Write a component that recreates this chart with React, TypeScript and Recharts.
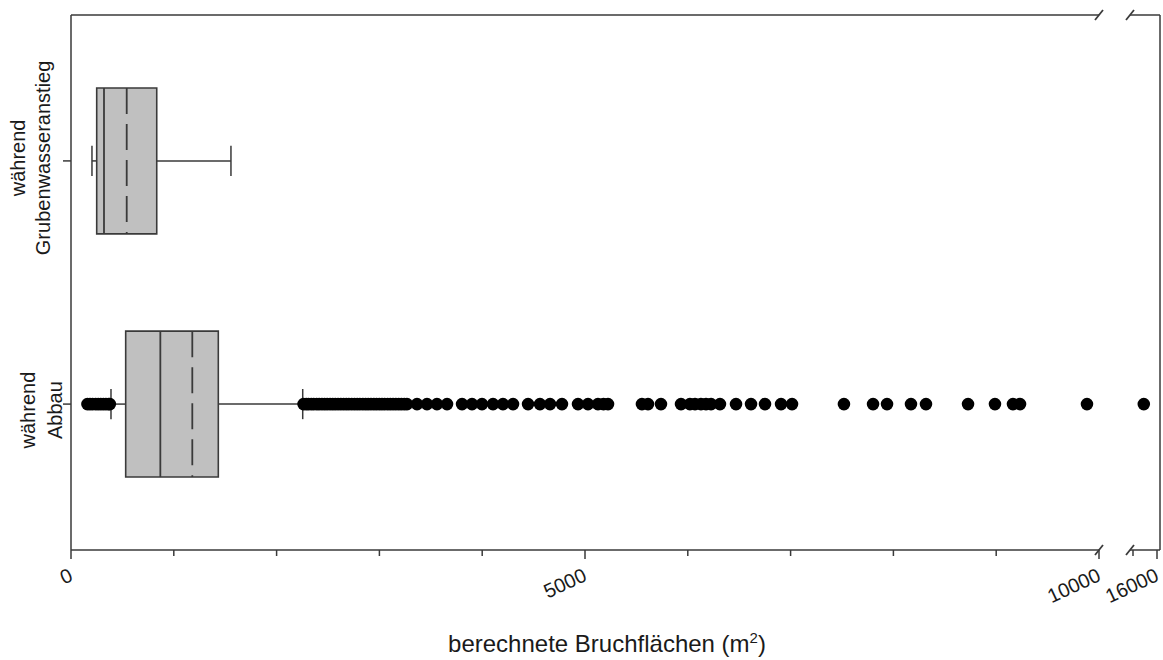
import React from 'react'
import { ScatterChart, Scatter, XAxis, YAxis, ReferenceArea, ReferenceLine } from 'recharts'

// categories on the value axis: 1 = Abbau, 2 = Grubenwasseranstieg
const CATEGORY_POS = [1, 2]
const CATEGORY_LINES = [
  ['während', 'Abbau'],
  ['während', 'Grubenwasseranstieg'],
]

// box statistics per category (m²)
const WHISKER_LOW = [389, 204]
const Q1 = [532, 250]
const MEDIAN = [869, 321]
const MEAN = [1180, 542]
const Q3 = [1433, 834]
const WHISKER_HIGH = [2254, 1556]

// outliers of "während Abbau"
const ABBAU_OUTLIERS = [
  160, 185, 210, 240, 265, 290, 315, 340, 365, 378,
  2262, 2288, 2310, 2337, 2361, 2390, 2414, 2441, 2467, 2492, 2520, 2546, 2571, 2598,
  2625, 2652, 2678, 2703, 2731, 2758, 2784, 2810, 2839, 2866, 2891, 2918, 2946, 2972,
  2999, 3025, 3051, 3080, 3106, 3133, 3160, 3188, 3214, 3242,
  3268, 3366, 3463, 3560, 3658, 3804, 3901, 3998, 4105, 4202, 4300, 4446, 4562, 4660,
  4776, 4932, 5029, 5126, 5180, 5224, 5554, 5613, 5739, 5934, 6021, 6070, 6128, 6177,
  6226, 6313, 6469, 6615, 6751, 6907, 7014, 7519, 7802, 7938, 8171, 8317, 8726, 8988,
  9163, 9232, 9883, 15450,
]

// broken x axis: two segments
const LEFT_DOMAIN = [0, 10000]
const RIGHT_DOMAIN = [14875, 16125]
const LEFT_TICKS = [0, 1000, 2000, 3000, 4000, 5000, 6000, 7000, 8000, 9000, 10000]
const RIGHT_TICKS = [15000, 16000]
const LABELED_TICKS = [0, 5000, 10000, 16000]
const Y_DOMAIN = [0.4, 2.6]

const FONT = '"Liberation Sans", Arial, sans-serif'
const LINE = '#3a3a3a'
const BOX_HALF = 0.3
const CAP_HALF = 0.062

// x position of each label line, and vertical nudge, per category
const LABEL_X = [[28, 55], [18, 43]]
const LABEL_DY = [6, -3]

const XTick = ({ x, y, payload }: any) => {
  const major = LABELED_TICKS.includes(payload.value)
  const px = x + 3
  const py = y + 30
  return (
    <g>
      <line x1={x} y1={y} x2={x} y2={y + (major ? 9 : 6)} stroke={LINE} strokeWidth={1.5} />
      {major && (
        <text
          x={px}
          y={py}
          textAnchor="end"
          transform={`rotate(-25 ${px} ${py})`}
          fontSize={20}
          fontFamily={FONT}
          fill="#1a1a1a"
        >
          {payload.value}
        </text>
      )}
    </g>
  )
}

const YTick = ({ y, payload }: any) => {
  const i = CATEGORY_POS.indexOf(payload.value)
  if (i < 0) return null
  const cy = y + LABEL_DY[i]
  return (
    <g>
      {CATEGORY_LINES[i].map((line, j) => (
        <text
          key={j}
          x={LABEL_X[i][j]}
          y={cy}
          textAnchor="middle"
          dominantBaseline="central"
          transform={`rotate(-90 ${LABEL_X[i][j]} ${cy})`}
          fontSize={20}
          fontFamily={FONT}
          fill="#1a1a1a"
        >
          {line}
        </text>
      ))}
    </g>
  )
}

const Dot = (props: any) => <circle cx={props.cx} cy={props.cy} r={6.3} fill="#000" />

function boxElements() {
  const els: React.ReactNode[] = []
  CATEGORY_POS.forEach((c, i) => {
    els.push(
      <ReferenceArea
        key={`box-${i}`}
        x1={Q1[i]}
        x2={Q3[i]}
        y1={c - BOX_HALF}
        y2={c + BOX_HALF}
        fill="#c0c0c0"
        fillOpacity={1}
        stroke={LINE}
        strokeWidth={1.6}
      />,
    )
    els.push(
      <ReferenceLine key={`med-${i}`} segment={[{ x: MEDIAN[i], y: c - BOX_HALF }, { x: MEDIAN[i], y: c + BOX_HALF }]} stroke={LINE} strokeWidth={1.8} />,
    )
    els.push(
      <ReferenceLine
        key={`mean-${i}`}
        segment={[{ x: MEAN[i], y: c + BOX_HALF }, { x: MEAN[i], y: c - BOX_HALF }]}
        stroke={LINE}
        strokeWidth={1.8}
        strokeDasharray="26 10"
      />,
    )
    els.push(
      <ReferenceLine key={`wl-${i}`} segment={[{ x: WHISKER_LOW[i], y: c }, { x: Q1[i], y: c }]} stroke={LINE} strokeWidth={1.5} />,
    )
    els.push(
      <ReferenceLine key={`wh-${i}`} segment={[{ x: Q3[i], y: c }, { x: WHISKER_HIGH[i], y: c }]} stroke={LINE} strokeWidth={1.5} />,
    )
    els.push(
      <ReferenceLine key={`cl-${i}`} segment={[{ x: WHISKER_LOW[i], y: c - CAP_HALF }, { x: WHISKER_LOW[i], y: c + CAP_HALF }]} stroke={LINE} strokeWidth={1.5} />,
    )
    els.push(
      <ReferenceLine key={`ch-${i}`} segment={[{ x: WHISKER_HIGH[i], y: c - CAP_HALF }, { x: WHISKER_HIGH[i], y: c + CAP_HALF }]} stroke={LINE} strokeWidth={1.5} />,
    )
  })
  return els
}

const leftOutliers = ABBAU_OUTLIERS.filter(v => v <= LEFT_DOMAIN[1]).map(v => ({ x: v, y: CATEGORY_POS[0] }))
const rightOutliers = ABBAU_OUTLIERS.filter(v => v >= RIGHT_DOMAIN[0]).map(v => ({ x: v, y: CATEGORY_POS[0] }))

// small slashes marking the axis break
const BREAKS = [
  [1099, 15], [1130, 15], [1099, 550], [1130, 550],
]

export default function App() {
  return (
    <div style={{ position: 'absolute', left: 0, top: 0, width: 1163, height: 660, background: '#fff', fontFamily: FONT }}>
      <div style={{ position: 'absolute', left: 0, top: 0 }}>
        <ScatterChart width={1110} height={660} margin={{ top: 15, right: 11, left: 0, bottom: 0 }}>
          <XAxis
            type="number"
            dataKey="x"
            domain={LEFT_DOMAIN}
            ticks={LEFT_TICKS}
            allowDataOverflow
            height={110}
            tickLine={false}
            tickSize={0}
            tickMargin={0}
            tick={<XTick />}
            stroke={LINE}
            strokeWidth={1.5}
            interval={0}
          />
          <YAxis
            type="number"
            dataKey="y"
            domain={Y_DOMAIN}
            ticks={CATEGORY_POS}
            allowDataOverflow
            width={71}
            tickSize={8}
            tick={<YTick />}
            stroke={LINE}
            strokeWidth={1.5}
            interval={0}
          />
          <ReferenceLine y={Y_DOMAIN[1]} stroke={LINE} strokeWidth={1.5} />
          {boxElements()}
          <Scatter data={leftOutliers} shape={<Dot />} isAnimationActive={false} />
        </ScatterChart>
      </div>
      <div style={{ position: 'absolute', left: 1100, top: 0 }}>
        <ScatterChart width={63} height={660} margin={{ top: 15, right: 0, left: 30, bottom: 0 }}>
          <XAxis
            type="number"
            dataKey="x"
            domain={RIGHT_DOMAIN}
            ticks={RIGHT_TICKS}
            allowDataOverflow
            height={110}
            tickLine={false}
            tickSize={0}
            tickMargin={0}
            tick={<XTick />}
            stroke={LINE}
            strokeWidth={1.5}
            interval={0}
          />
          <YAxis
            type="number"
            dataKey="y"
            orientation="right"
            domain={Y_DOMAIN}
            allowDataOverflow
            width={3}
            tick={false}
            tickLine={false}
            stroke={LINE}
            strokeWidth={1.5}
          />
          <ReferenceLine y={Y_DOMAIN[1]} stroke={LINE} strokeWidth={1.5} />
          <Scatter data={rightOutliers} shape={<Dot />} isAnimationActive={false} />
        </ScatterChart>
      </div>
      <svg width={1163} height={660} style={{ position: 'absolute', left: 0, top: 0, pointerEvents: 'none' }}>
        {BREAKS.map(([cx, cy], i) => (
          <line key={i} x1={cx - 4} y1={cy + 5} x2={cx + 4} y2={cy - 5} stroke={LINE} strokeWidth={1.8} />
        ))}
      </svg>
      <div
        style={{
          position: 'absolute',
          left: 607,
          top: 632,
          transform: 'translateX(-50%)',
          whiteSpace: 'nowrap',
          fontSize: 24,
          lineHeight: 1,
          color: '#1a1a1a',
        }}
      >
        berechnete Bruchflächen (m<sup style={{ fontSize: 15, lineHeight: 0 }}>2</sup>)
      </div>
    </div>
  )
}
